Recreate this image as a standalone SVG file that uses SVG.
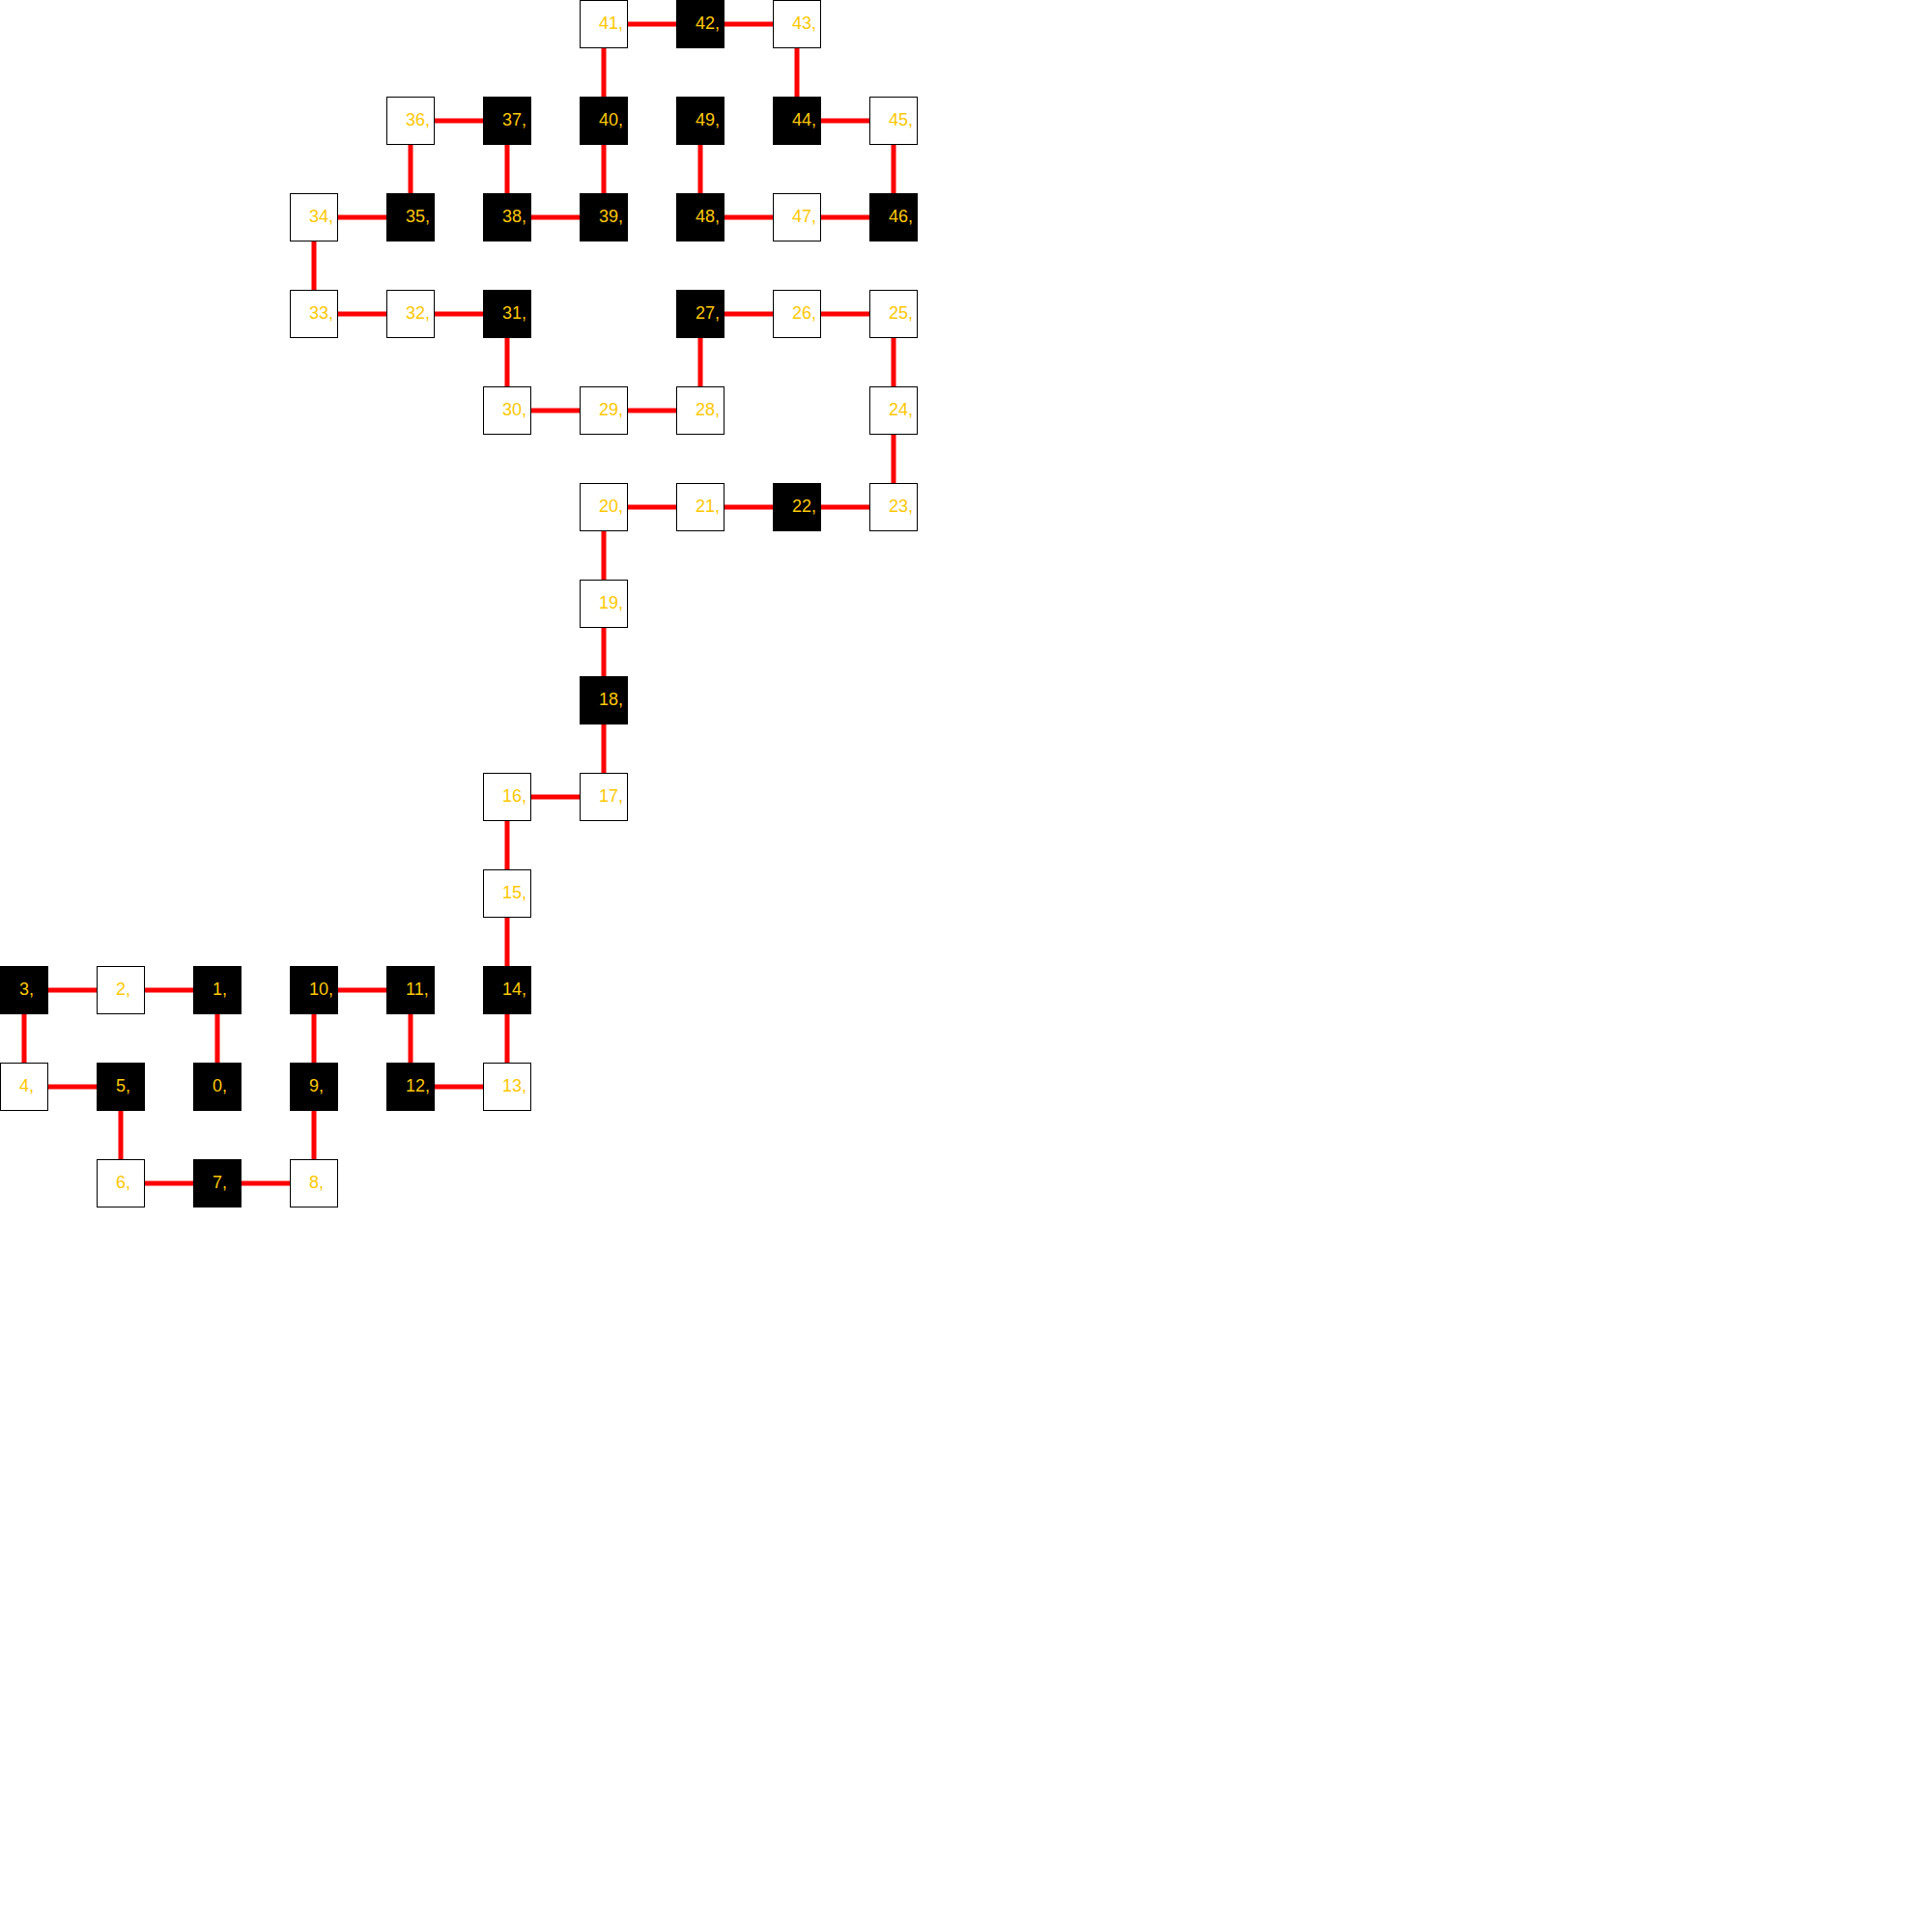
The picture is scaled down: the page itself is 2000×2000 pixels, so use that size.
<svg xmlns="http://www.w3.org/2000/svg" width="2000" height="2000" viewBox="0 0 2000 2000">
<style>
.e{stroke:#ff0000;stroke-width:5;fill:none}
.w{fill:#ffffff;stroke:#000000;stroke-width:1}
.b{fill:#000000;stroke:#000000;stroke-width:1}
.t{font-family:"Liberation Sans",Arial,sans-serif;font-size:18px;fill:#ffc800}
</style>
<rect width="2000" height="2000" fill="#ffffff"/>
<g id="connectors">
<polyline class="e" points="225,1125 225,1025 125,1025 25,1025 25,1125 125,1125 125,1225 225,1225 325,1225 325,1125 325,1025 425,1025 425,1125 525,1125 525,1025 525,925 525,825 625,825 625,725 625,625 625,525 725,525 825,525 925,525 925,425 925,325 825,325 725,325 725,425 625,425 525,425 525,325 425,325 325,325 325,225 425,225 425,125 525,125 525,225 625,225 625,125 625,25 725,25 825,25 825,125 925,125 925,225 825,225 725,225 725,125"/>
</g>
<g id="n0"><rect class="b" x="200.5" y="1100.5" width="49" height="49"/><text class="t" x="220" y="1130">0,</text></g>
<g id="n1"><rect class="b" x="200.5" y="1000.5" width="49" height="49"/><text class="t" x="220" y="1030">1,</text></g>
<g id="n2"><rect class="w" x="100.5" y="1000.5" width="49" height="49"/><text class="t" x="120" y="1030">2,</text></g>
<g id="n3"><rect class="b" x="0.5" y="1000.5" width="49" height="49"/><text class="t" x="20" y="1030">3,</text></g>
<g id="n4"><rect class="w" x="0.5" y="1100.5" width="49" height="49"/><text class="t" x="20" y="1130">4,</text></g>
<g id="n5"><rect class="b" x="100.5" y="1100.5" width="49" height="49"/><text class="t" x="120" y="1130">5,</text></g>
<g id="n6"><rect class="w" x="100.5" y="1200.5" width="49" height="49"/><text class="t" x="120" y="1230">6,</text></g>
<g id="n7"><rect class="b" x="200.5" y="1200.5" width="49" height="49"/><text class="t" x="220" y="1230">7,</text></g>
<g id="n8"><rect class="w" x="300.5" y="1200.5" width="49" height="49"/><text class="t" x="320" y="1230">8,</text></g>
<g id="n9"><rect class="b" x="300.5" y="1100.5" width="49" height="49"/><text class="t" x="320" y="1130">9,</text></g>
<g id="n10"><rect class="b" x="300.5" y="1000.5" width="49" height="49"/><text class="t" x="320" y="1030">10,</text></g>
<g id="n11"><rect class="b" x="400.5" y="1000.5" width="49" height="49"/><text class="t" x="420" y="1030">11,</text></g>
<g id="n12"><rect class="b" x="400.5" y="1100.5" width="49" height="49"/><text class="t" x="420" y="1130">12,</text></g>
<g id="n13"><rect class="w" x="500.5" y="1100.5" width="49" height="49"/><text class="t" x="520" y="1130">13,</text></g>
<g id="n14"><rect class="b" x="500.5" y="1000.5" width="49" height="49"/><text class="t" x="520" y="1030">14,</text></g>
<g id="n15"><rect class="w" x="500.5" y="900.5" width="49" height="49"/><text class="t" x="520" y="930">15,</text></g>
<g id="n16"><rect class="w" x="500.5" y="800.5" width="49" height="49"/><text class="t" x="520" y="830">16,</text></g>
<g id="n17"><rect class="w" x="600.5" y="800.5" width="49" height="49"/><text class="t" x="620" y="830">17,</text></g>
<g id="n18"><rect class="b" x="600.5" y="700.5" width="49" height="49"/><text class="t" x="620" y="730">18,</text></g>
<g id="n19"><rect class="w" x="600.5" y="600.5" width="49" height="49"/><text class="t" x="620" y="630">19,</text></g>
<g id="n20"><rect class="w" x="600.5" y="500.5" width="49" height="49"/><text class="t" x="620" y="530">20,</text></g>
<g id="n21"><rect class="w" x="700.5" y="500.5" width="49" height="49"/><text class="t" x="720" y="530">21,</text></g>
<g id="n22"><rect class="b" x="800.5" y="500.5" width="49" height="49"/><text class="t" x="820" y="530">22,</text></g>
<g id="n23"><rect class="w" x="900.5" y="500.5" width="49" height="49"/><text class="t" x="920" y="530">23,</text></g>
<g id="n24"><rect class="w" x="900.5" y="400.5" width="49" height="49"/><text class="t" x="920" y="430">24,</text></g>
<g id="n25"><rect class="w" x="900.5" y="300.5" width="49" height="49"/><text class="t" x="920" y="330">25,</text></g>
<g id="n26"><rect class="w" x="800.5" y="300.5" width="49" height="49"/><text class="t" x="820" y="330">26,</text></g>
<g id="n27"><rect class="b" x="700.5" y="300.5" width="49" height="49"/><text class="t" x="720" y="330">27,</text></g>
<g id="n28"><rect class="w" x="700.5" y="400.5" width="49" height="49"/><text class="t" x="720" y="430">28,</text></g>
<g id="n29"><rect class="w" x="600.5" y="400.5" width="49" height="49"/><text class="t" x="620" y="430">29,</text></g>
<g id="n30"><rect class="w" x="500.5" y="400.5" width="49" height="49"/><text class="t" x="520" y="430">30,</text></g>
<g id="n31"><rect class="b" x="500.5" y="300.5" width="49" height="49"/><text class="t" x="520" y="330">31,</text></g>
<g id="n32"><rect class="w" x="400.5" y="300.5" width="49" height="49"/><text class="t" x="420" y="330">32,</text></g>
<g id="n33"><rect class="w" x="300.5" y="300.5" width="49" height="49"/><text class="t" x="320" y="330">33,</text></g>
<g id="n34"><rect class="w" x="300.5" y="200.5" width="49" height="49"/><text class="t" x="320" y="230">34,</text></g>
<g id="n35"><rect class="b" x="400.5" y="200.5" width="49" height="49"/><text class="t" x="420" y="230">35,</text></g>
<g id="n36"><rect class="w" x="400.5" y="100.5" width="49" height="49"/><text class="t" x="420" y="130">36,</text></g>
<g id="n37"><rect class="b" x="500.5" y="100.5" width="49" height="49"/><text class="t" x="520" y="130">37,</text></g>
<g id="n38"><rect class="b" x="500.5" y="200.5" width="49" height="49"/><text class="t" x="520" y="230">38,</text></g>
<g id="n39"><rect class="b" x="600.5" y="200.5" width="49" height="49"/><text class="t" x="620" y="230">39,</text></g>
<g id="n40"><rect class="b" x="600.5" y="100.5" width="49" height="49"/><text class="t" x="620" y="130">40,</text></g>
<g id="n41"><rect class="w" x="600.5" y="0.5" width="49" height="49"/><text class="t" x="620" y="30">41,</text></g>
<g id="n42"><rect class="b" x="700.5" y="0.5" width="49" height="49"/><text class="t" x="720" y="30">42,</text></g>
<g id="n43"><rect class="w" x="800.5" y="0.5" width="49" height="49"/><text class="t" x="820" y="30">43,</text></g>
<g id="n44"><rect class="b" x="800.5" y="100.5" width="49" height="49"/><text class="t" x="820" y="130">44,</text></g>
<g id="n45"><rect class="w" x="900.5" y="100.5" width="49" height="49"/><text class="t" x="920" y="130">45,</text></g>
<g id="n46"><rect class="b" x="900.5" y="200.5" width="49" height="49"/><text class="t" x="920" y="230">46,</text></g>
<g id="n47"><rect class="w" x="800.5" y="200.5" width="49" height="49"/><text class="t" x="820" y="230">47,</text></g>
<g id="n48"><rect class="b" x="700.5" y="200.5" width="49" height="49"/><text class="t" x="720" y="230">48,</text></g>
<g id="n49"><rect class="b" x="700.5" y="100.5" width="49" height="49"/><text class="t" x="720" y="130">49,</text></g>
</svg>
